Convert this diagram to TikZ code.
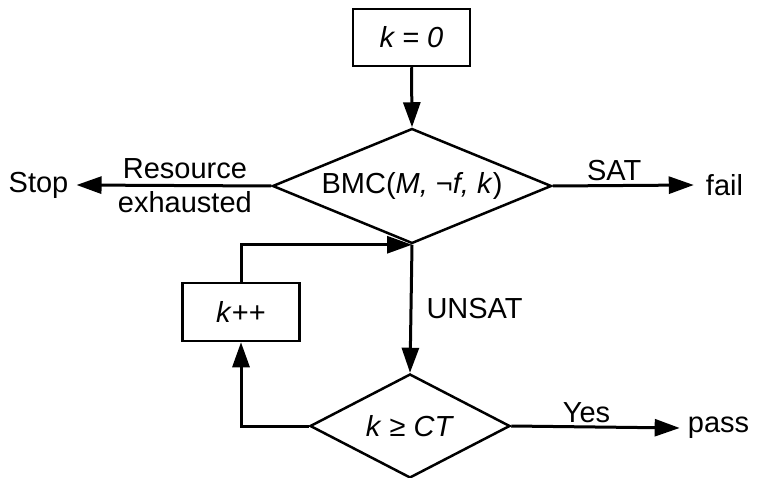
\documentclass[tikz,border=0pt]{standalone}
\usepackage{fontspec}
\setmainfont{Liberation Sans}
\usetikzlibrary{shapes.geometric,arrows.meta}
\begin{document}
\begin{tikzpicture}[x=1pt,y=-1pt,
  every node/.style={font=\fontsize{29}{34}\selectfont},
  line/.style={line width=3pt},
  arr/.style={line width=3pt,-{Triangle[length=25pt,width=17pt]}},
  procbox/.style={draw,line width=2.5pt,minimum width=117pt,minimum height=57pt,inner sep=0pt},
  decision/.style={draw,diamond,line width=2.5pt,inner sep=0pt,aspect=2.43},
  term/.style={inner sep=0pt},
  lbl/.style={inner sep=0pt}]
\useasboundingbox (0,0) rectangle (762,478);
\node[procbox] (k0) at (411.5,37.5) {\textit{k = 0}};
\node[decision,minimum width=279pt,minimum height=115pt] (d1) at (412,186) {BMC(\textit{M, }¬\textit{f, k})};
\node[procbox,minimum height=58pt] (kpp) at (241,312) {\textit{k}++};
\node[decision,aspect=1.92,minimum width=200pt,minimum height=104pt] (d2) at (410,426) {\textit{k} ≥ \textit{CT}};
\node[term,inner xsep=8pt] (stop) at (38.5,185) {Stop};
\node[term,inner xsep=12pt] (fail) at (724.5,185) {fail};
\node[term,inner xsep=8pt] (pass) at (718.5,428) {pass};
\draw[arr] (k0.south) -- (d1.north);
\draw[arr] (d1.west) -- (stop.east) node[lbl,midway,align=center,xshift=11pt] {Resource\\exhausted};
\draw[arr] (d1.east) -- (fail.west) node[lbl,midway,above=3pt,xshift=-9pt] {SAT};
\draw[arr] (d1.south) -- (d2.north) node[lbl,midway,right=14pt] {UNSAT};
\draw[arr] (d2.east) -- (pass.west) node[lbl,midway,above=3pt,xshift=-9pt] {Yes};
\draw[arr] (d2.west) -| (kpp.south);
\draw[arr] (kpp.north) |- (d1.south);
\end{tikzpicture}
\end{document}
